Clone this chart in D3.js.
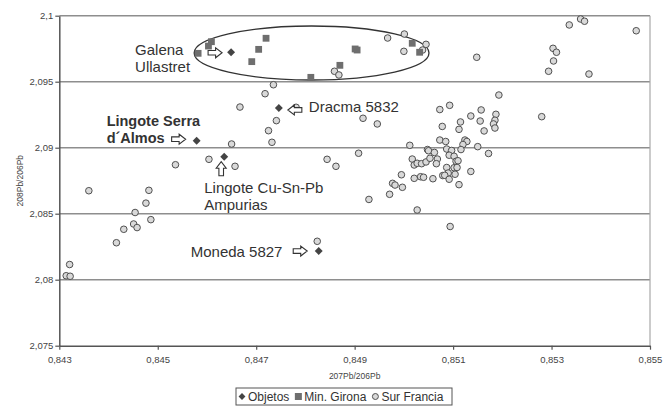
<!DOCTYPE html>
<html>
<head>
<meta charset="utf-8">
<script src="https://cdn.jsdelivr.net/npm/d3@7/dist/d3.min.js"></script>
<style>
  html, body { margin: 0; padding: 0; background: #fff; }
  svg { display: block; font-family: "Liberation Sans", Arial, sans-serif; }
</style>
</head>
<body>
<svg id="chart" width="669" height="408"></svg>
<script>
// Lead isotope ratios: 207Pb/206Pb (x) vs 208Pb/206Pb (y)

// Objetos (dated objects), each with its annotation
const objetosX = [0.84649, 0.84746, 0.84579, 0.84635, 0.84827];
const objetosY = [2.09723, 2.09301, 2.09053, 2.08932, 2.08217];

// Min. Girona (Ullastret galena ores)
const gironaX = [0.84582, 0.84603, 0.84609, 0.84705, 0.84720, 0.84691, 0.84811, 0.84870, 0.84901, 0.84905, 0.85017, 0.85032];
const gironaY = [2.09715, 2.09770, 2.09803, 2.09745, 2.09829, 2.09652, 2.09533, 2.09624, 2.09748, 2.09740, 2.09791, 2.09723];

// Sur Francia ores
const franciaX = [
  0.84360, 0.84536, 0.84604, 0.84482, 0.84476, 0.84454, 0.84451, 0.84458, 0.84431, 0.84486,
  0.84416, 0.84321, 0.84314, 0.84322,
  0.84667, 0.84781, 0.84741, 0.84725, 0.84732, 0.84650, 0.84657, 0.84718, 0.84735,
  0.84859, 0.84868, 0.84917, 0.84946, 0.84908, 0.84844, 0.84862, 0.84929, 0.84824, 0.85027,
  0.84967, 0.85001, 0.85000, 0.85045, 0.85038,
  0.85148, 0.85303, 0.85310, 0.85304, 0.85294, 0.85376, 0.85336, 0.85359, 0.85367, 0.85472,
  0.85193, 0.85093, 0.85073, 0.85157, 0.85136, 0.85187, 0.85185, 0.85182, 0.85185, 0.85155,
  0.85115, 0.85078, 0.85112, 0.85163, 0.85280, 0.85073, 0.85085, 0.85124, 0.85128, 0.85120,
  0.85116, 0.85150, 0.85172, 0.85087, 0.85097, 0.85092, 0.85102, 0.85106, 0.85110, 0.85102,
  0.85108, 0.85087, 0.85136, 0.85090, 0.85079, 0.85083, 0.85104, 0.85092, 0.85112, 0.85094,
  0.85048, 0.85050, 0.85062, 0.85012, 0.85017, 0.85021, 0.85027, 0.85036, 0.85045, 0.85053,
  0.85068, 0.85066, 0.84995, 0.84977, 0.84982, 0.84997, 0.84971, 0.85021, 0.85034, 0.85040,
  0.85059
];
const franciaY = [
  2.08674, 2.08871, 2.08912, 2.08677, 2.08580, 2.08509, 2.08422, 2.08395, 2.08382, 2.08455,
  2.08280, 2.08115, 2.08030, 2.08026,
  2.09308, 2.09306, 2.09205, 2.09129, 2.09041, 2.09028, 2.08859, 2.09409, 2.09477,
  2.09579, 2.09551, 2.09223, 2.09180, 2.08958, 2.08912, 2.08859, 2.08608, 2.08291, 2.08528,
  2.09831, 2.09861, 2.09730, 2.09783, 2.09740,
  2.09685, 2.09753, 2.09723, 2.09657, 2.09579, 2.09558, 2.09930, 2.09975, 2.09958, 2.09886,
  2.09399, 2.09321, 2.09289, 2.09286, 2.09240, 2.09253, 2.09208, 2.09180, 2.09149, 2.09202,
  2.09195, 2.09161, 2.09139, 2.09127, 2.09235, 2.09058, 2.09047, 2.09058, 2.09047, 2.09024,
  2.08986, 2.09008, 2.08956, 2.08990, 2.08979, 2.08943, 2.08935, 2.08897, 2.08901, 2.08848,
  2.08850, 2.08850, 2.08820, 2.08808, 2.08789, 2.08791, 2.08799, 2.08761, 2.08720, 2.08403,
  2.08986, 2.08977, 2.08964, 2.09018, 2.08914, 2.08869, 2.08882, 2.08879, 2.08892, 2.08920,
  2.08914, 2.08879, 2.08795, 2.08730, 2.08717, 2.08700, 2.08647, 2.08768, 2.08780, 2.08776,
  2.08765
];

const xTicks = [0.843, 0.845, 0.847, 0.849, 0.851, 0.853, 0.855];
const yTicks = [2.075, 2.08, 2.085, 2.09, 2.095, 2.1];

// Galena Ullastret grouping outline (data-space bounds)
const ellipseX = [0.84574, 0.85051];
const ellipseY = [2.09513, 2.09922];

const svg = d3.select("#chart");
const plotLeft = 59.3, plotRight = 650, plotTop = 15.7, plotBottom = 345.7;

const x = d3.scaleLinear().domain([0.843, 0.855]).range([plotLeft, plotRight]);
const y = d3.scaleLinear().domain([2.075, 2.1]).range([plotBottom, plotTop]);

const loc = d3.formatLocale({ decimal: ",", thousands: ".", grouping: [3], currency: ["", ""] });
const fmtX = loc.format(".3f");
const fmtY = v => loc.format(".3~f")(v);

// horizontal gridlines
svg.append("g").selectAll("line").data(yTicks.filter(t => t > 2.075)).join("line")
  .attr("x1", plotLeft).attr("x2", plotRight)
  .attr("y1", d => y(d)).attr("y2", d => y(d))
  .attr("stroke", "#8e8e8e").attr("stroke-width", 1.5);

// right border of plot area
svg.append("line").attr("x1", plotRight).attr("x2", plotRight).attr("y1", plotTop).attr("y2", plotBottom)
  .attr("stroke", "#a8a8a8").attr("stroke-width", 1.2);

// axes
const yAxis = svg.append("g").attr("transform", `translate(${plotLeft},0)`)
  .call(d3.axisLeft(y).tickValues(yTicks).tickFormat(fmtY).tickSizeInner(4).tickSizeOuter(0).tickPadding(2));
const xAxis = svg.append("g").attr("transform", `translate(0,${plotBottom})`)
  .call(d3.axisBottom(x).tickValues(xTicks).tickFormat(fmtX).tickSizeInner(4).tickSizeOuter(0).tickPadding(7));
[yAxis, xAxis].forEach(g => {
  g.select(".domain").attr("stroke", "#555").attr("stroke-width", 1.5);
  g.selectAll(".tick line").attr("stroke", "#555").attr("stroke-width", 1.2);
  g.selectAll(".tick text").attr("fill", "#444").attr("font-size", 9.5)
    .attr("font-family", "'Liberation Sans', Arial, sans-serif");
});

// axis titles
svg.append("text").attr("x", (plotLeft + plotRight) / 2).attr("y", 379)
  .attr("text-anchor", "middle").attr("font-size", 8.5).attr("fill", "#444").text("207Pb/206Pb");
svg.append("text").attr("transform", `translate(23,${(plotTop + plotBottom) / 2}) rotate(-90)`)
  .attr("text-anchor", "middle").attr("font-size", 8.5).attr("fill", "#444").text("208Pb/206Pb");

// ellipse around the Ullastret galena group
svg.append("ellipse")
  .attr("cx", (x(ellipseX[0]) + x(ellipseX[1])) / 2)
  .attr("cy", (y(ellipseY[0]) + y(ellipseY[1])) / 2)
  .attr("rx", (x(ellipseX[1]) - x(ellipseX[0])) / 2)
  .attr("ry", (y(ellipseY[0]) - y(ellipseY[1])) / 2)
  .attr("fill", "none").attr("stroke", "#333").attr("stroke-width", 1.3);

// series
const francia = franciaX.map((v, i) => [v, franciaY[i]]);
const girona = gironaX.map((v, i) => [v, gironaY[i]]);
const objetos = objetosX.map((v, i) => [v, objetosY[i]]);

svg.append("g").selectAll("circle").data(francia).join("circle")
  .attr("cx", d => x(d[0])).attr("cy", d => y(d[1])).attr("r", 3.3)
  .attr("fill", "#d9d9d9").attr("stroke", "#505050").attr("stroke-width", 1);

svg.append("g").selectAll("rect").data(girona).join("rect")
  .attr("x", d => x(d[0]) - 3.4).attr("y", d => y(d[1]) - 3.4)
  .attr("width", 6.8).attr("height", 6.8).attr("fill", "#6e6e6e");

const diamond = d3.symbol().type(d3.symbolDiamond2).size(40);
svg.append("g").selectAll("path").data(objetos).join("path")
  .attr("transform", d => `translate(${x(d[0])},${y(d[1])})`)
  .attr("d", diamond).attr("fill", "#444");

// hollow block arrow pointing right, rotated as needed
function arrow(cx, cy, angle) {
  const p = "M-7,-2.3 L0.5,-2.3 L0.5,-5 L7,0 L0.5,5 L0.5,2.3 L-7,2.3 Z";
  svg.append("path").attr("d", p)
    .attr("transform", `translate(${cx},${cy}) rotate(${angle})`)
    .attr("fill", "#fff").attr("stroke", "#333").attr("stroke-width", 1.1);
}

function label(lines, px, py, opts = {}) {
  const t = svg.append("text").attr("x", px).attr("y", py)
    .attr("font-size", opts.size || 15).attr("fill", "#333")
    .attr("font-weight", opts.bold ? "bold" : "normal");
  lines.forEach((s, i) => t.append("tspan").attr("x", px).attr("dy", i === 0 ? 0 : 17.5).text(s));
}

// Galena Ullastret
{
  const px = x(objetosX[0]), py = y(objetosY[0]);
  label(["Galena", "Ullastret"], px - 96, py + 2.5);
  arrow(px - 16, py + 0.5, 0);
}
// Dracma 5832
{
  const px = x(objetosX[1]), py = y(objetosY[1]);
  arrow(px + 16, py + 2, 180);
  label(["Dracma 5832"], px + 30, py + 4);
}
// Lingote Serra d´Almos
{
  const px = x(objetosX[2]), py = y(objetosY[2]);
  label(["Lingote Serra", "d\u00B4Almos"], px - 90, py - 15, { size: 14.5, bold: true });
  arrow(px - 18, py - 1.5, 0);
}
// Lingote Cu-Sn-Pb Ampurias
{
  const px = x(objetosX[3]), py = y(objetosY[3]);
  arrow(px - 3, py + 12, -90);
  label(["Lingote Cu-Sn-Pb", "Ampurias"], px - 20, py + 36);
}
// Moneda 5827
{
  const px = x(objetosX[4]), py = y(objetosY[4]);
  label(["Moneda 5827"], px - 128, py + 5.5);
  arrow(px - 18.5, py, 0);
}

// legend
{
  const g = svg.append("g");
  const lx = 236, ly = 388, lw = 216, lh = 17;
  g.append("rect").attr("x", lx).attr("y", ly).attr("width", lw).attr("height", lh)
    .attr("fill", "#fff").attr("stroke", "#555").attr("stroke-width", 1);
  const cy = ly + lh / 2;
  const items = [
    { name: "Objetos", kind: "diamond" },
    { name: "Min. Girona", kind: "square" },
    { name: "Sur Francia", kind: "circle" }
  ];
  let cx = lx + 6;
  items.forEach(it => {
    if (it.kind === "diamond") {
      g.append("path").attr("transform", `translate(${cx},${cy})`)
        .attr("d", d3.symbol().type(d3.symbolDiamond2).size(30)).attr("fill", "#444");
    } else if (it.kind === "square") {
      g.append("rect").attr("x", cx - 3.5).attr("y", cy - 3.5).attr("width", 7).attr("height", 7).attr("fill", "#6e6e6e");
    } else {
      g.append("circle").attr("cx", cx).attr("cy", cy).attr("r", 3)
        .attr("fill", "#d9d9d9").attr("stroke", "#505050").attr("stroke-width", 1);
    }
    const t = g.append("text").attr("x", cx + 6).attr("y", cy + 4.3)
      .attr("font-size", 12).attr("fill", "#333").text(it.name);
    cx += 6 + t.node().getComputedTextLength() + 9;
  });
}
</script>
</body>
</html>
